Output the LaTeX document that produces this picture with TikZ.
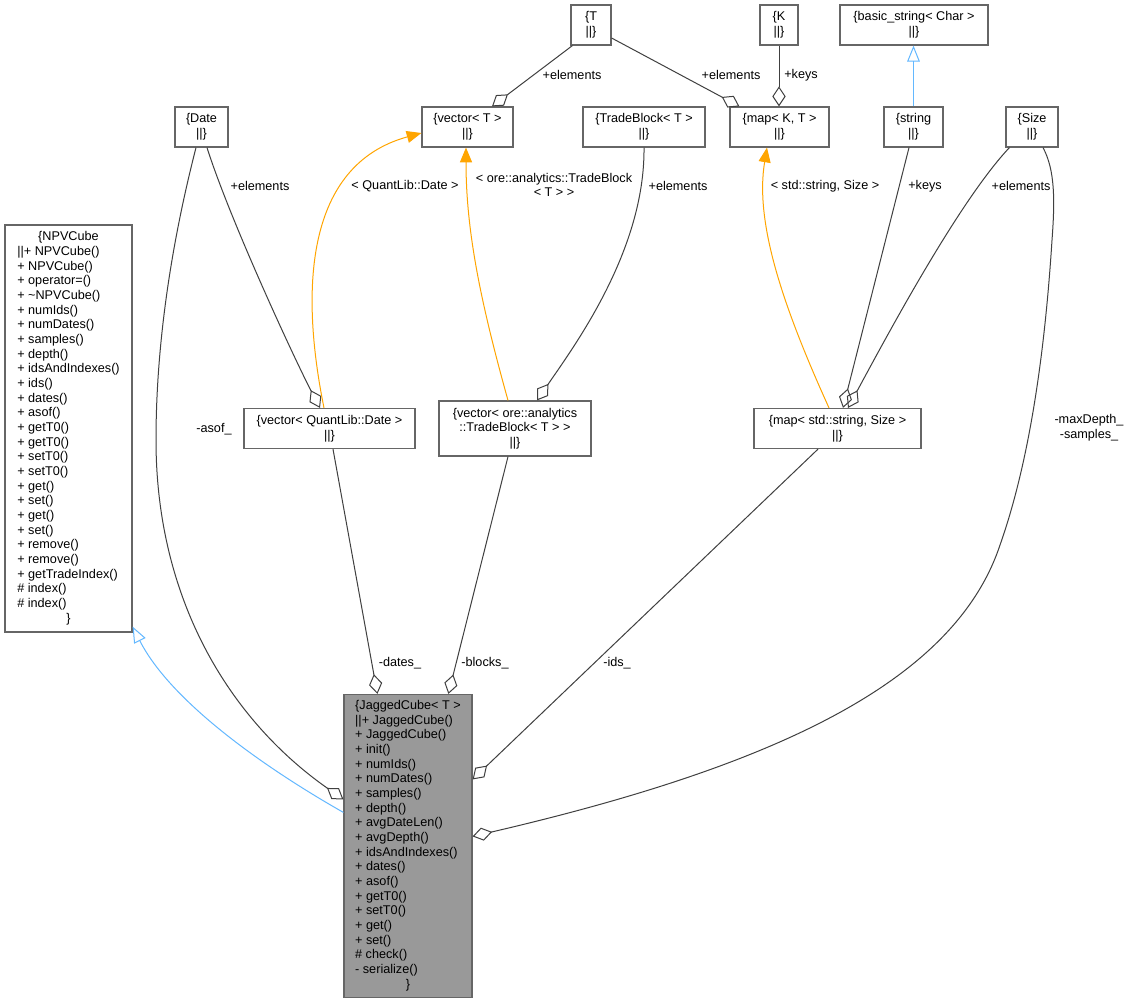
\documentclass[tikz,border=0pt]{standalone}
\usepackage{fontspec}
\setmainfont{Liberation Sans}
\usetikzlibrary{arrows.meta,calc}
\definecolor{edgec}{HTML}{404040}
\definecolor{boxc}{HTML}{666666}
\definecolor{jcfill}{HTML}{999999}
\definecolor{tmplc}{HTML}{FFA500}
\definecolor{inhc}{HTML}{63B8FF}
\begin{document}
\begin{tikzpicture}[x=0.75pt,y=-0.75pt,
 every node/.style={font=\fontsize{9.5}{11}\selectfont},
 cls/.style={draw=boxc, line width=0.9pt, fill=white, rectangle, inner sep=0pt, align=center},
 sz/.style 2 args={minimum width=#1*0.75pt, minimum height=#2*0.75pt},
 lbl/.style={inner sep=0pt, align=center},
 agg/.style={draw=edgec, line width=0.75pt, {Diamond[open,length=15pt,width=10pt]}-},
 inh/.style={draw=inhc, line width=0.75pt, -{Triangle[open,length=12pt,width=9.5pt]}},
 tmpl/.style={draw=tmplc, line width=0.75pt, -{Triangle[length=11pt,width=9pt,fill=tmplc]}},
]
\fill[white] (0,0) rectangle (1130,1004);
\useasboundingbox (0,0) rectangle (1130,1004);

% class nodes
\node[cls,sz={40}{40}] (t) at (591,25) {\{T\\||\}};
\node[cls,sz={38}{40}] (k) at (779,25) {\{K\\||\}};
\node[cls,sz={148}{40}] (basic) at (914,25) {\{basic\_string< Char >\\||\}};
\node[cls,sz={53}{40}] (date) at (201.5,127) {\{Date\\||\}};
\node[cls,sz={91}{40}] (vect) at (467.5,127) {\{vector< T >\\||\}};
\node[cls,sz={122}{40}] (tb) at (644,127) {\{TradeBlock< T >\\||\}};
\node[cls,sz={99}{40}] (mapkt) at (779.5,127) {\{map< K, T >\\||\}};
\node[cls,sz={59}{40}] (string) at (913.5,127) {\{string\\||\}};
\node[cls,sz={52}{40}] (size) at (1032,127) {\{Size\\||\}};
\node[cls,sz={171}{40}] (vecql) at (329.5,428.5) {\{vector< QuantLib::Date >\\||\}};
\node[cls,sz={152}{55}] (vecore) at (515,428.5) {\{vector< ore::analytics\\::TradeBlock< T > >\\||\}};
\node[cls,sz={167}{40}] (mapss) at (837.5,428.5) {\{map< std::string, Size >\\||\}};
\node[cls,sz={127}{407}] (npv) at (68.5,428.5) {\begin{tabular}{@{}l@{}}
\multicolumn{1}{@{}c@{}}{\{NPVCube}\\
||+ NPVCube()\\
+ NPVCube()\\
+ operator=()\\
+ \textasciitilde NPVCube()\\
+ numIds()\\
+ numDates()\\
+ samples()\\
+ depth()\\
+ idsAndIndexes()\\
+ ids()\\
+ dates()\\
+ asof()\\
+ getT0()\\
+ getT0()\\
+ setT0()\\
+ setT0()\\
+ get()\\
+ set()\\
+ get()\\
+ set()\\
+ remove()\\
+ remove()\\
+ getTradeIndex()\\
\# index()\\
\# index()\\
\multicolumn{1}{@{}c@{}}{\}}
\end{tabular}};
\node[cls,sz={128}{303},fill=jcfill] (jc) at (408,846) {\begin{tabular}{@{}l@{}}
\multicolumn{1}{@{}c@{}}{\{JaggedCube< T >}\\
||+ JaggedCube()\\
+ JaggedCube()\\
+ init()\\
+ numIds()\\
+ numDates()\\
+ samples()\\
+ depth()\\
+ avgDateLen()\\
+ avgDepth()\\
+ idsAndIndexes()\\
+ dates()\\
+ asof()\\
+ getT0()\\
+ setT0()\\
+ get()\\
+ set()\\
\# check()\\
- serialize()\\
\multicolumn{1}{@{}c@{}}{\}}
\end{tabular}};

% connectors
\draw[inh] ($(jc.north west)+(0,118.5)$) .. controls (260,765) and (170,700) .. ($(npv.south east)+(0,-6)$);
\draw[agg] ($(jc.north west)+(0,105.5)$) .. controls (230,720) and (156,600) .. (156,440) .. controls (156,320) and (180,210) .. ($(date.south)+(-5.5,0)$);
\draw[agg] ($(vecql.north)+(-9.5,0)$) .. controls (295,360) and (230,220) .. ($(date.south)+(5.5,0)$);
\draw[tmpl] ($(vecql.north)+(-5.5,0)$) .. controls (300,290) and (305,165) .. ($(vect.west)+(0,6)$);
\draw[tmpl] ($(vecore.north)+(-7,0)$) .. controls (480,300) and (466,230) .. ($(vect.south)+(-1.5,0)$);
\draw[agg] ($(vecore.north)+(22,0)$) .. controls (575,345) and (645,250) .. (tb.south);
\draw[agg] ($(vect.north)+(24.5,0)$) -- ($(t.south west)+(2,0)$);
\draw[agg] ($(mapkt.north west)+(10,0)$) -- ($(t.east)+(0,13)$);
\draw[agg] (k.south |- mapkt.north) -- (k.south);
\draw[inh] (string.north) -- (string.north |- basic.south);
\draw[agg] ($(mapss.north)+(5.5,0)$) -- ($(string.south)+(-4.5,0)$);
\draw[agg] ($(mapss.north)+(10.5,0)$) .. controls (890,330) and (960,200) .. ($(size.south west)+(4,0)$);
\draw[tmpl] ($(mapss.north)+(-8.5,0)$) .. controls (780,300) and (755,220) .. ($(mapkt.south)+(-12.5,0)$);
\draw[agg] ($(jc.north east)+(0,85.5)$) -- ($(mapss.south)+(-19.5,0)$);
\draw[agg] ($(jc.north east)+(0,142.5)$) .. controls (780,765) and (955,680) .. (1000,545) .. controls (1030,460) and (1045,350) .. (1052,240) .. controls (1055,200) and (1055,170) .. ($(size.south)+(11,0)$);
\draw[agg] ($(jc.north west)+(34,0)$) -- ($(vecql.south)+(3.5,0)$);
\draw[agg] ($(jc.north west)+(105,0)$) -- ($(vecore.south)+(-7,0)$);

% labels
\node[lbl] (l1) at (572,75) {+elements};
\node[lbl] (l2) at (731,75) {+elements};
\node[lbl] (l3) at (801,75) {+keys};
\node[lbl] (l4) at (405,186) {< QuantLib::Date >};
\node[lbl] (l5) at (554,185) {< ore::analytics::TradeBlock\\< T > >};
\node[lbl] (l6) at (260,186) {+elements};
\node[lbl] (l7) at (678,186) {+elements};
\node[lbl] (l8) at (825,186) {< std::string, Size >};
\node[lbl] (l9) at (925,186) {+keys};
\node[lbl] (l10) at (1021,186) {+elements};
\node[lbl] (l11) at (1089,428) {-maxDepth\_\\-samples\_};
\node[lbl] (l12) at (214,429) {-asof\_};
\node[lbl] (l13) at (400,663) {-dates\_};
\node[lbl] (l14) at (485,663) {-blocks\_};
\node[lbl] (l15) at (617,663) {-ids\_};
\end{tikzpicture}
\end{document}
